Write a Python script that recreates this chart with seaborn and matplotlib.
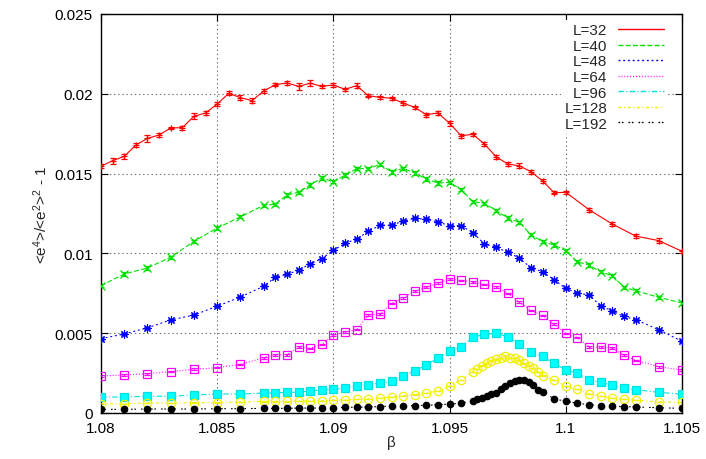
import matplotlib
matplotlib.use("Agg")
import matplotlib.pyplot as plt
from matplotlib.lines import Line2D
import seaborn as sns

# ---- data -----------------------------------------------------------------
# beta grid for L=32
beta_32 = [1.080, 1.0805, 1.081, 1.0815, 1.082, 1.0825, 1.083, 1.0835, 1.084, 1.0845,
           1.085, 1.0855, 1.086, 1.0865, 1.087, 1.0875, 1.088, 1.0885, 1.089, 1.0895,
           1.090, 1.0905, 1.091, 1.0915, 1.092, 1.0925, 1.093, 1.0935, 1.094, 1.0945,
           1.095, 1.0955, 1.096, 1.0965, 1.097, 1.0975, 1.098, 1.0985, 1.099, 1.0995,
           1.100, 1.101, 1.102, 1.103, 1.104, 1.105]
# beta grid for L=40, 48, 64, 96
beta_mid = [1.080, 1.081, 1.082, 1.083, 1.084, 1.085, 1.086, 1.087,
            1.0875, 1.088, 1.0885, 1.089, 1.0895, 1.090, 1.0905, 1.091, 1.0915, 1.092,
            1.0925, 1.093, 1.0935, 1.094, 1.0945, 1.095, 1.0955, 1.096, 1.0965, 1.097,
            1.0975, 1.098, 1.0985, 1.099, 1.0995, 1.100,
            1.1005, 1.101, 1.1015, 1.102, 1.1025, 1.103, 1.104, 1.105]
# beta grid for L=128, 192 (refined around the peak)
beta_big = [1.080, 1.081, 1.082, 1.083, 1.084, 1.085, 1.086, 1.087,
            1.0875, 1.088, 1.0885, 1.089, 1.0895, 1.090, 1.0905, 1.091, 1.0915, 1.092,
            1.0925, 1.093, 1.0935, 1.094, 1.0945, 1.095, 1.0955,
            1.0960, 1.0962, 1.0964, 1.0966, 1.0968, 1.0970, 1.0972, 1.0974, 1.0976,
            1.0978, 1.0980, 1.0982, 1.0984, 1.0986, 1.0988, 1.0990,
            1.0995, 1.100, 1.1005, 1.101, 1.1015, 1.102, 1.1025, 1.103, 1.104, 1.105]

binder_32 = [0.01546, 0.01581, 0.01608, 0.01679, 0.01721, 0.01742, 0.01786, 0.01788, 0.01859, 0.01880,
             0.01936, 0.02003, 0.01976, 0.01957, 0.02018, 0.02057, 0.02068, 0.02047, 0.02066, 0.02047,
             0.02055, 0.02028, 0.02051, 0.01988, 0.01978, 0.01972, 0.01942, 0.01915, 0.01869, 0.01880,
             0.01815, 0.01737, 0.01746, 0.01685, 0.01606, 0.01560, 0.01549, 0.01512, 0.01454, 0.01380,
             0.01383, 0.01274, 0.01184, 0.01109, 0.01080, 0.01013]
err_32 = [0.00012, 0.00018, 0.00015, 0.00010, 0.00020, 0.00015, 0.00008, 0.00012, 0.00020, 0.00012,
          0.00015, 0.00012, 0.00015, 0.00015, 0.00010, 0.00010, 0.00015, 0.00022, 0.00020, 0.00010,
          0.00015, 0.00010, 0.00015, 0.00010, 0.00010, 0.00010, 0.00012, 0.00010, 0.00012, 0.00015,
          0.00015, 0.00012, 0.00008, 0.00015, 0.00012, 0.00010, 0.00015, 0.00012, 0.00010, 0.00010,
          0.00010, 0.00012, 0.00010, 0.00010, 0.00015, 0.00010]

binder_40 = [0.00798, 0.00871, 0.00909, 0.00976, 0.01076, 0.01159, 0.01229, 0.01301,
             0.01308, 0.01366, 0.01383, 0.01429, 0.01472, 0.01449, 0.01491, 0.01531, 0.01531, 0.01558,
             0.01510, 0.01533, 0.01504, 0.01466, 0.01441, 0.01445, 0.01399, 0.01324, 0.01314, 0.01268,
             0.01222, 0.01195, 0.01117, 0.01073, 0.01053, 0.01017,
             0.00948, 0.00927, 0.00885, 0.00860, 0.00788, 0.00766, 0.00725, 0.00689]
err_40 = 0.00010

binder_48 = [0.00466, 0.00495, 0.00534, 0.00583, 0.00614, 0.00669, 0.00727, 0.00794,
             0.00850, 0.00869, 0.00894, 0.00935, 0.00967, 0.01019, 0.01063, 0.01090, 0.01138, 0.01176,
             0.01178, 0.01201, 0.01220, 0.01214, 0.01197, 0.01174, 0.01174, 0.01130, 0.01059, 0.01038,
             0.01007, 0.00971, 0.00910, 0.00885, 0.00835, 0.00781,
             0.00752, 0.00739, 0.00672, 0.00639, 0.00605, 0.00585, 0.00522, 0.00449]
err_48 = 0.00007

binder_64 = [0.00232, 0.00238, 0.00246, 0.00259, 0.00274, 0.00284, 0.00305, 0.00346,
             0.00365, 0.00363, 0.00415, 0.00405, 0.00430, 0.00487, 0.00509, 0.00522, 0.00614, 0.00620,
             0.00685, 0.00721, 0.00763, 0.00788, 0.00813, 0.00841, 0.00831, 0.00819, 0.00806, 0.00791,
             0.00750, 0.00694, 0.00643, 0.00612, 0.00556, 0.00499,
             0.00472, 0.00415, 0.00412, 0.00407, 0.00363, 0.00330, 0.00290, 0.00269]
err_64 = 0.00005

binder_96 = [0.00100, 0.00100, 0.00105, 0.00105, 0.00113, 0.00119, 0.00119, 0.00125,
             0.00125, 0.00130, 0.00130, 0.00138, 0.00144, 0.00148, 0.00157, 0.00169, 0.00177, 0.00188,
             0.00199, 0.00230, 0.00265, 0.00299, 0.00345, 0.00387, 0.00415, 0.00474, 0.00493, 0.00499,
             0.00478, 0.00434, 0.00380, 0.00355, 0.00311, 0.00271,
             0.00249, 0.00209, 0.00192, 0.00175, 0.00155, 0.00146, 0.00130, 0.00117]
err_96 = 0.00002

binder_128 = [0.00058, 0.00058, 0.00063, 0.00063, 0.00065, 0.00065, 0.00069, 0.00073,
              0.00073, 0.00073, 0.00075, 0.00075, 0.00077, 0.00080, 0.00083, 0.00086, 0.00088, 0.00092,
              0.00101, 0.00108, 0.00115, 0.00125, 0.00138, 0.00169, 0.00207,
              0.00259, 0.00276, 0.00297, 0.00311, 0.00328, 0.00336, 0.00345, 0.00359, 0.00345,
              0.00343, 0.00330, 0.00311, 0.00297, 0.00282, 0.00259, 0.00234,
              0.00205, 0.00169, 0.00150, 0.00119, 0.00108, 0.00092, 0.00086, 0.00081, 0.00069, 0.00067]
err_128 = 0.00001

binder_192 = [0.00023, 0.00023, 0.00025, 0.00025, 0.00025, 0.00027, 0.00027, 0.00029,
              0.00029, 0.00029, 0.00031, 0.00031, 0.00031, 0.00031, 0.00036, 0.00036, 0.00038, 0.00040,
              0.00044, 0.00045, 0.00046, 0.00048, 0.00052, 0.00056, 0.00061,
              0.00077, 0.00088, 0.00096, 0.00104, 0.00117, 0.00125, 0.00150, 0.00171, 0.00188,
              0.00198, 0.00209, 0.00207, 0.00192, 0.00175, 0.00144, 0.00134,
              0.00088, 0.00074, 0.00061, 0.00052, 0.00046, 0.00042, 0.00040, 0.00038, 0.00033, 0.00029]
err_192 = 0.00001

labels = ["L=32", "L=40", "L=48", "L=64", "L=96", "L=128", "L=192"]
x_ticks = [1.08, 1.085, 1.09, 1.095, 1.1, 1.105]
x_tick_labels = ["1.08", "1.085", "1.09", "1.095", "1.1", "1.105"]
y_ticks = [0, 0.005, 0.01, 0.015, 0.02, 0.025]
y_tick_labels = ["0", "0.005", "0.01", "0.015", "0.02", "0.025"]

# ---- style ----------------------------------------------------------------
sns.set_style("ticks", {"xtick.direction": "in", "ytick.direction": "in"})
plt.rcParams["font.family"] = ["Liberation Sans", "DejaVu Sans"]
plt.rcParams["mathtext.default"] = "regular"
plt.rcParams["lines.scale_dashes"] = False

series = [
    # beta, values, errors, colour, dash pattern, marker style
    (beta_32, binder_32, err_32, "#ff0000", "-",
     dict(marker="+", markersize=4, markerfacecolor="none", markeredgewidth=0.9)),
    (beta_mid, binder_40, err_40, "#00e000", (0, (3.6, 1.6)),
     dict(marker="x", markersize=5.5, markerfacecolor="none", markeredgewidth=0.9)),
    (beta_mid, binder_48, err_48, "#0000ff", (0, (1.4, 2.0)),
     dict(marker=(8, 2, 0), markersize=6.0, markerfacecolor="none", markeredgewidth=0.8)),
    (beta_mid, binder_64, err_64, "#ff00ff", (0, (0.7, 1.4)),
     dict(marker="s", markersize=5.5, markerfacecolor="none", markeredgewidth=0.9)),
    (beta_mid, binder_96, err_96, "#00e0e0", (0, (4.0, 1.6, 0.8, 1.6)),
     dict(marker="s", markersize=6, markerfacecolor="#00ffff", markeredgewidth=0.9)),
    (beta_big, binder_128, err_128, "#f0f000", (0, (2.2, 1.8, 0.8, 1.8)),
     dict(marker="o", markersize=6, markerfacecolor="none", markeredgewidth=0.9)),
    (beta_big, binder_192, err_192, "#000000", (0, (1.2, 1.2, 1.2, 3.6)),
     dict(marker="o", markersize=4.6, markerfacecolor="#000000", markeredgewidth=0.9)),
]

fig = plt.figure(figsize=(7.06, 4.60), dpi=100)
ax = fig.add_axes([101 / 706, 1 - 414 / 460, 581 / 706, 399 / 460])

handles = []
for (beta, vals, err, col, ls, mk), lab in zip(series, labels):
    ax.errorbar(beta, vals, yerr=err, fmt="none", ecolor=col, elinewidth=0.9,
                capsize=2.2, capthick=0.9, zorder=2)
    sns.lineplot(x=beta, y=vals, ax=ax, color=col, linestyle=ls, linewidth=0.8,
                 markeredgecolor=col, estimator=None, sort=False, errorbar=None,
                 legend=False, zorder=3, **mk)
    handles.append(Line2D([], [], color=col, linestyle=ls, linewidth=1.0))

ax.set_xlim(1.08, 1.105)
ax.set_ylim(0, 0.025)
ax.set_xticks(x_ticks)
ax.set_xticklabels(x_tick_labels)
ax.set_yticks(y_ticks)
ax.set_yticklabels(y_tick_labels)
ax.tick_params(axis="both", which="both", direction="in", length=5, width=0.8,
               top=True, right=True, labelsize=11, pad=6, colors="black")
ax.grid(True, color="#707070", linestyle=(0, (1, 2)), linewidth=0.8, zorder=0)
ax.set_axisbelow(True)
for sp in ax.spines.values():
    sp.set_color("black")
    sp.set_linewidth(1.0)

ax.set_xlabel("β", fontsize=11, labelpad=0)
ax.set_ylabel(r"<e$^4$>/<e$^2$>$^2$ - 1", fontsize=11, labelpad=3)

leg = ax.legend(handles, labels, loc="upper right", bbox_to_anchor=(0.974, 0.984),
                markerfirst=False, frameon=True, fancybox=False, fontsize=11,
                handlelength=3.0, handletextpad=0.7, labelspacing=0.1,
                borderpad=0.2, borderaxespad=0.0)
leg.get_frame().set_facecolor("white")
leg.get_frame().set_edgecolor("none")
leg.get_frame().set_alpha(1.0)

fig.savefig("out.png", dpi=100)
